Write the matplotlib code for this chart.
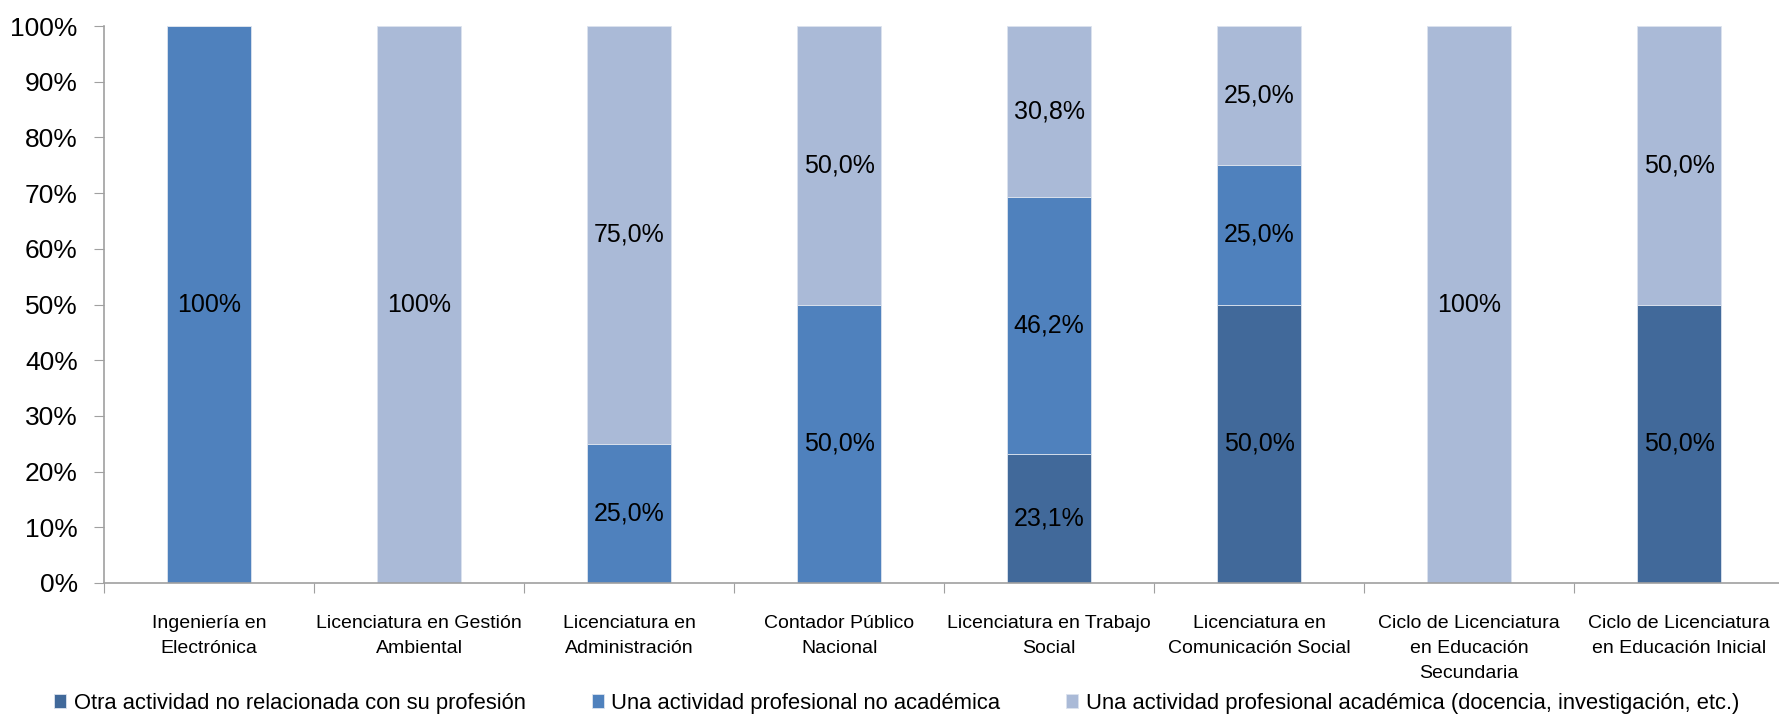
import numpy as np
import matplotlib
matplotlib.use("Agg")
import matplotlib.pyplot as plt

plt.rcParams['font.family'] = ['Liberation Sans', 'DejaVu Sans']

carreras = ["Ingeniería en\nElectrónica",
            "Licenciatura en Gestión\nAmbiental",
            "Licenciatura en\nAdministración",
            "Contador Público\nNacional",
            "Licenciatura en Trabajo\nSocial",
            "Licenciatura en\nComunicación Social",
            "Ciclo de Licenciatura\nen Educación\nSecundaria",
            "Ciclo de Licenciatura\nen Educación Inicial"]

otra = [0, 0, 0, 0, 23.1, 50.0, 0, 50.0]
no_academica = [100, 0, 25.0, 50.0, 46.2, 25.0, 0, 0]
academica = [0, 100, 75.0, 50.0, 30.8, 25.0, 100, 50.0]

series_names = ["Otra actividad no relacionada con su profesión",
                "Una actividad profesional no académica",
                "Una actividad profesional académica (docencia, investigación, etc.)"]
colores = ["#41699A", "#4F81BD", "#AABAD7"]


def etiqueta(v):
    if v >= 99.95:
        return "100%"
    return ("%.1f%%" % v).replace(".", ",")


fig = plt.figure(figsize=(17.79, 7.14), dpi=100)
ax = fig.add_axes([0.0585, 0.1835, 0.9445, 0.78])

x = np.arange(len(carreras))
bottom = np.zeros(len(carreras))
for vals, name, col in zip([otra, no_academica, academica], series_names, colores):
    vals = np.array(vals, dtype=float)
    ax.bar(x, vals, width=0.4, bottom=bottom, color=col, label=name,
           edgecolor="#DCE3EE", linewidth=0.6)
    for xi, b, v in zip(x, bottom, vals):
        if v > 0:
            ax.text(xi, b + v / 2, etiqueta(v), ha="center", va="center",
                    fontsize=18, color="black")
    bottom += vals

ax.set_xlim(-0.5, len(carreras) - 0.5)
ax.set_ylim(0, 100)
ax.set_yticks(np.arange(0, 101, 10))
ax.set_yticklabels(["%d%%" % v for v in range(0, 101, 10)], fontsize=19)

ax.set_xticks(np.arange(len(carreras) + 1) - 0.5)
ax.set_xticklabels([])
ax.set_xticks(x, minor=True)
ax.set_xticklabels(carreras, minor=True, fontsize=14, linespacing=1.6)
ax.tick_params(axis="x", which="minor", length=0, pad=23)
ax.tick_params(axis="x", which="major", length=7, color="#A0A0A0", direction="out")
ax.tick_params(axis="y", length=7, color="#A0A0A0", direction="out", pad=12)

for s in ["top", "right"]:
    ax.spines[s].set_visible(False)
for s in ["left", "bottom"]:
    ax.spines[s].set_color("#A0A0A0")
    ax.spines[s].set_linewidth(1.2)

fig.legend(loc="center left", bbox_to_anchor=(0.0305, 0.015), ncol=3, frameon=False,
           fontsize=15.8, handlelength=0.55, handleheight=0.55, handletextpad=0.35,
           columnspacing=3.0, borderpad=0, borderaxespad=0)

fig.savefig("out.png", dpi=100)
